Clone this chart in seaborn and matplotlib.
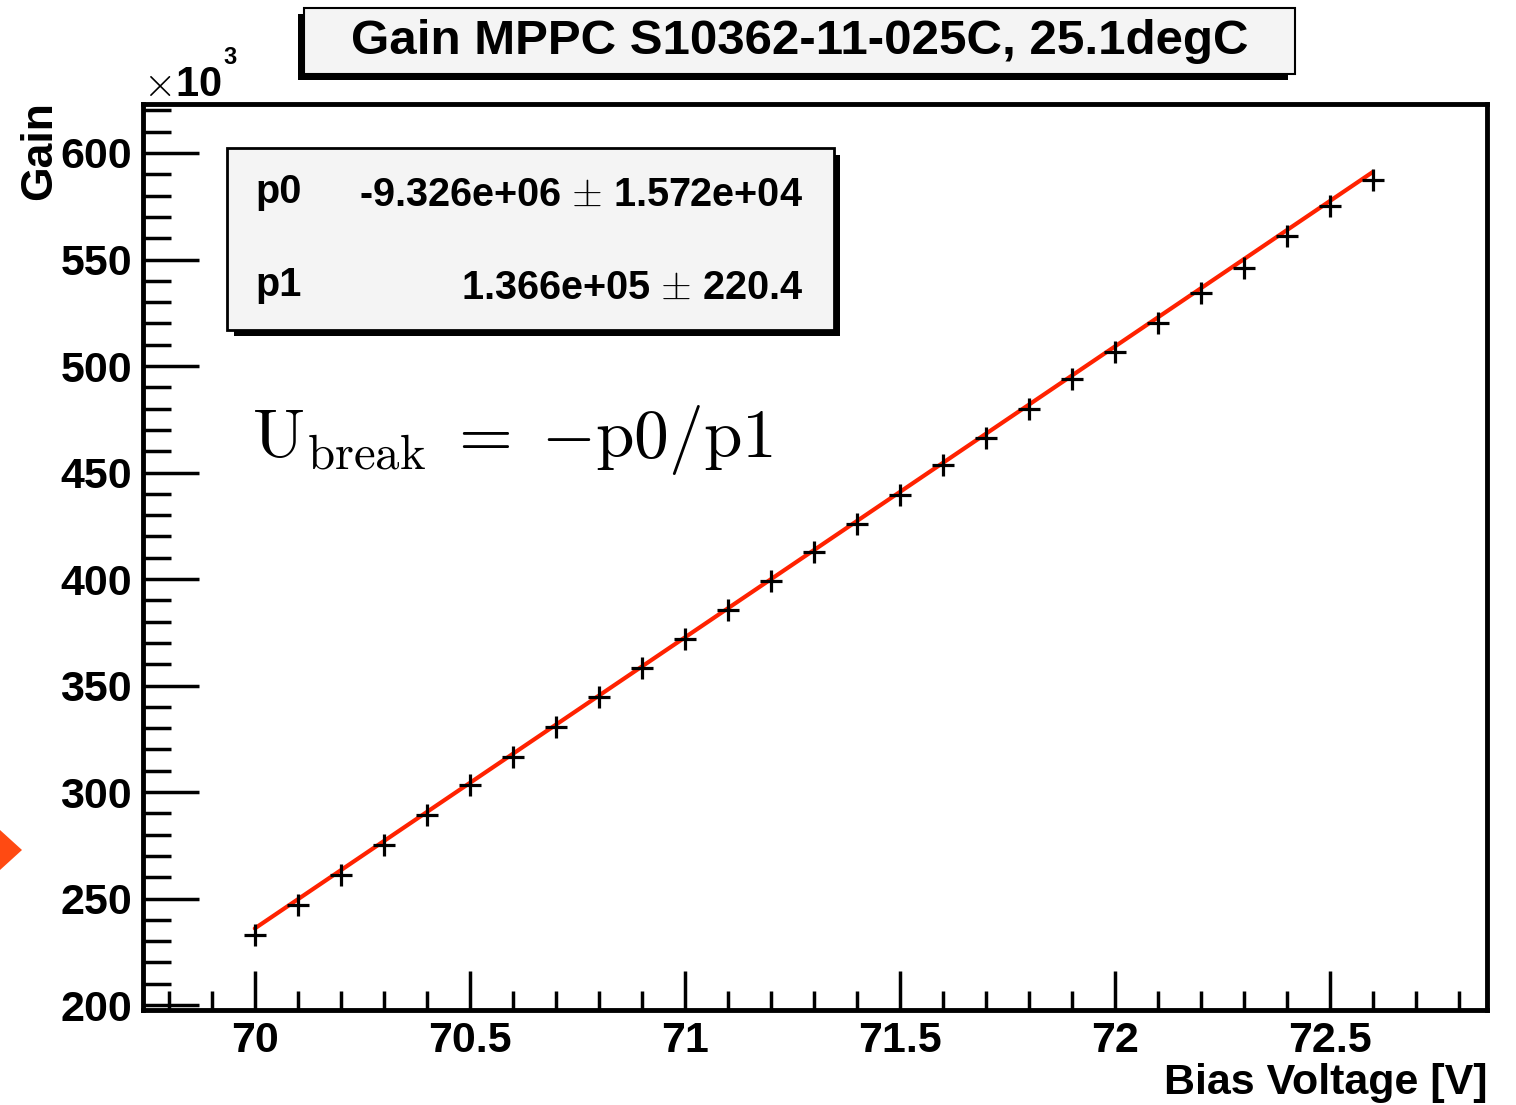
import numpy as np
import pandas as pd
import seaborn as sns
import matplotlib
matplotlib.use("Agg")
import matplotlib.pyplot as plt
from matplotlib.patches import Rectangle, Polygon
from matplotlib.ticker import MultipleLocator

# ---- data ----
bias_voltage = [70.0, 70.1, 70.2, 70.3, 70.4, 70.5, 70.6, 70.7, 70.8, 70.9,
                71.0, 71.1, 71.2, 71.3, 71.4, 71.5, 71.6, 71.7, 71.8, 71.9,
                72.0, 72.1, 72.2, 72.3, 72.4, 72.5, 72.6]
gain_k = [232.9, 247.0, 261.0, 275.0, 289.2, 303.3, 316.4, 330.5, 344.6, 358.2,
          371.8, 385.4, 399.0, 412.7, 425.8, 439.4, 453.5, 466.2, 479.8, 493.9,
          506.6, 520.2, 534.3, 546.0, 561.0, 575.1, 587.3]
p0 = -9.326e6
p0_err = 1.572e4
p1 = 1.366e5
p1_err = 220.4
fit_range = [70.0, 72.6]

title = "Gain MPPC S10362-11-025C, 25.1degC"
x_label = "Bias Voltage [V]"
y_label = "Gain"
x_ticks = [70, 70.5, 71, 71.5, 72, 72.5]
x_ticklabels = ["70", "70.5", "71", "71.5", "72", "72.5"]
y_ticks = [200, 250, 300, 350, 400, 450, 500, 550, 600]
y_ticklabels = ["200", "250", "300", "350", "400", "450", "500", "550", "600"]

sns.set_theme(style="white")
plt.rcParams['font.family'] = ['Liberation Sans', 'DejaVu Sans']
plt.rcParams['font.weight'] = 'bold'
plt.rcParams['mathtext.fontset'] = 'cm'
for k in ['text.color', 'axes.labelcolor', 'xtick.color', 'ytick.color']:
    plt.rcParams[k] = 'black'

W, H = 1516, 1105
fig = plt.figure(figsize=(W / 100, H / 100), dpi=100)
ax = fig.add_axes([143 / W, 1 - 1010 / H, (1487 - 143) / W, (1010 - 104) / H])

df = pd.DataFrame({"V": bias_voltage, "G": gain_k})
xfit = np.linspace(fit_range[0], fit_range[1], 100)
fit_df = pd.DataFrame({"V": xfit, "G": (p0 + p1 * xfit) / 1e3})

sns.lineplot(data=fit_df, x="V", y="G", ax=ax, color="#ff2200", lw=3, zorder=2)
sns.scatterplot(data=df, x="V", y="G", ax=ax, marker="+", s=260, color="black",
                linewidth=2.3, zorder=3)

ax.set_xlim(69.74, 72.865)
ax.set_ylim(197.7, 623)
ax.set_xlabel("")
ax.set_ylabel("")

for s in ax.spines.values():
    s.set_linewidth(3.5)
    s.set_color("black")

ax.xaxis.set_minor_locator(MultipleLocator(0.1))
ax.yaxis.set_minor_locator(MultipleLocator(10))
ax.tick_params(axis="x", which="major", direction="in", length=28, width=2.5,
               labelsize=31, pad=8, bottom=True, top=False)
ax.tick_params(axis="x", which="minor", direction="in", length=14, width=2.5,
               bottom=True, top=False)
ax.tick_params(axis="y", which="major", direction="in", length=40, width=2.5,
               labelsize=31, pad=8, left=True, right=False)
ax.tick_params(axis="y", which="minor", direction="in", length=20, width=2.5,
               left=True, right=False)
ax.set_xticks(x_ticks)
ax.set_xticklabels(x_ticklabels)
ax.set_yticks(y_ticks)
ax.set_yticklabels(y_ticklabels)
for lab in ax.get_xticklabels() + ax.get_yticklabels():
    lab.set_fontweight("bold")

# axis titles
fig.text(1487 / W, 1 - 1083 / H, x_label, ha="right", va="center",
         fontsize=31, fontweight="bold")
fig.text(40 / W, 1 - 151 / H, y_label, ha="center", va="center",
         fontsize=32, fontweight="bold", rotation=90)
fig.text(143 / W, 1 - 85 / H, r"$\times$10", ha="left", va="center",
         fontsize=30, fontweight="bold")
fig.text(223 / W, 1 - 58 / H, "3", ha="left", va="center",
         fontsize=17, fontweight="bold")

# title box (shadow to lower-left)
def px_rect(x0, y0, x1, y1, **kw):
    return Rectangle((x0 / W, 1 - y1 / H), (x1 - x0) / W, (y1 - y0) / H,
                     transform=fig.transFigure, **kw)

fig.patches.append(px_rect(298, 14, 1288, 80, facecolor="black", edgecolor="none", zorder=1))
fig.patches.append(px_rect(304, 8, 1295, 74, facecolor="#f4f4f4", edgecolor="black",
                           lw=1.5, zorder=2))
fig.text((304 + 1295) / 2 / W, 1 - 41 / H, title, ha="center", va="center",
         fontsize=35.5, fontweight="bold", zorder=3)

# stats box (shadow to lower-right)
fig.patches.append(px_rect(234, 155, 840, 336, facecolor="black", edgecolor="none", zorder=4))
fig.patches.append(px_rect(227, 148, 834, 330, facecolor="#f4f4f4", edgecolor="black",
                           lw=2, zorder=5))
fig.text(255 / W, 1 - 192 / H, "p0", ha="left", va="center", fontsize=28.5,
         fontweight="bold", zorder=6)
fig.text(255 / W, 1 - 285 / H, "p1", ha="left", va="center", fontsize=28.5,
         fontweight="bold", zorder=6)
fig.text(803 / W, 1 - 195 / H, f"{p0:.3e} $\\pm$ {p0_err:.3e}",
         ha="right", va="center", fontsize=28.5, fontweight="bold", zorder=6)
fig.text(803 / W, 1 - 288 / H, f"{p1:.3e} $\\pm$ {p1_err}",
         ha="right", va="center", fontsize=28.5, fontweight="bold", zorder=6)

# formula
fig.text(252 / W, 1 - 440 / H, r"$\mathrm{U_{break}}\;=\;{-}\mathrm{p0/p1}$",
         ha="left", va="center", fontsize=50, zorder=6)

# orange arrow fragment at the left edge
fig.patches.append(Polygon([[0, 1 - 830 / H], [22 / W, 1 - 850 / H], [0, 1 - 870 / H]],
                           closed=True, transform=fig.transFigure,
                           facecolor="#ff4a12", edgecolor="none"))

fig.savefig("out.png", dpi=100)
